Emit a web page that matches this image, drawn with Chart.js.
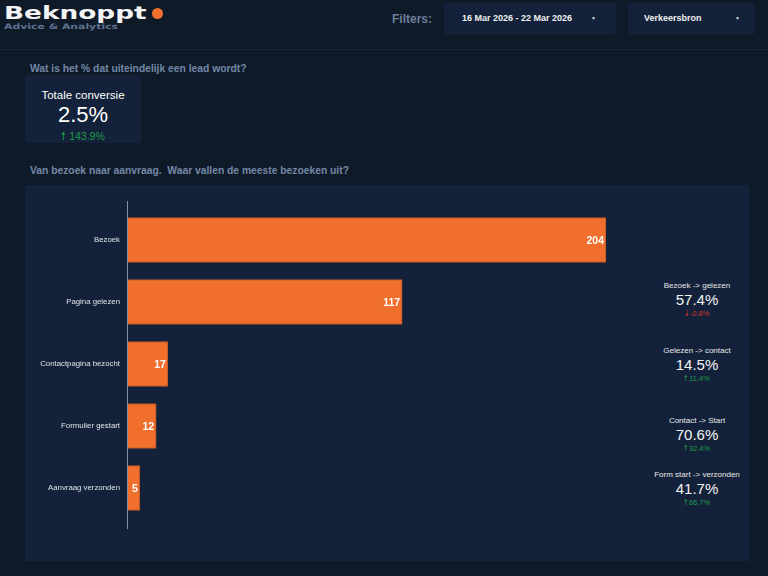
<!DOCTYPE html>
<html>
<head>
<meta charset="utf-8">
<script src="https://cdn.jsdelivr.net/npm/chart.js@4.4.1/dist/chart.umd.min.js"></script>
<style>
  html, body { margin: 0; padding: 0; }
  body { width: 768px; height: 576px; background: #0f1a29; position: relative; overflow: hidden;
         font-family: "Liberation Sans", Arial, sans-serif; color: #fff; }
  .abs { position: absolute; }
  #logo { left: 4px; top: 3px; font-family: "DejaVu Sans", sans-serif; font-weight: bold; font-size: 17px;
          line-height: 20px; color: #f4f4f4; transform: scaleX(1.55); transform-origin: 0 0; white-space: nowrap; }
  #logo-dot { left: 152px; top: 8px; width: 11px; height: 11px; border-radius: 50%; background: #f06f2c; }
  #tagline { left: 4px; top: 22px; font-family: "DejaVu Sans", sans-serif; font-weight: bold; font-size: 7.5px;
             line-height: 10px; color: #5f7290; transform: scaleX(1.45); transform-origin: 0 0; white-space: nowrap; }
  #hline { left: 0; top: 49px; width: 768px; height: 1px; background: #17243a; }
  #filters-lbl { left: 392px; top: 12px; font-weight: bold; font-size: 12px; color: #6c7f99; }
  .dd { background: #13223a; border-radius: 2px; height: 31px; top: 3px; font-weight: bold; font-size: 9px;
        line-height: 31px; color: #f0f0f0; }
  .dd .caret { position: absolute; top: 0; font-size: 5px; color: #ddd; }
  .q { font-weight: bold; font-size: 10.3px; color: #7388a5; }
  #card { left: 25px; top: 75px; width: 116px; height: 68px; background: #13223a; border-radius: 2px; text-align: center; }
  #card .t { position: absolute; left: 0; width: 100%; top: 14px; font-size: 11.5px; }
  #card .v { position: absolute; left: 0; width: 100%; top: 27px; font-size: 22px; }
  #card .d { position: absolute; left: 0; width: 100%; top: 54px; font-size: 10.5px; color: #1f9a46; }
  #panel { left: 25px; top: 185px; width: 725px; height: 376px; background: #13223a; }
  #chart { left: 0; top: 0; }
  .kpi { position: absolute; width: 120px; left: 612px; text-align: center; }
  .kpi .t { font-size: 8px; color: #e8e8e8; height: 10px; line-height: 10px; }
  .kpi .v { font-size: 15px; color: #f2f2f2; height: 17px; line-height: 17px; }
  .kpi .d { font-size: 7.5px; height: 11px; line-height: 11px; }
  .up { color: #1f9a46; }
  .down { color: #d0342c; }
</style>
</head>
<body>
<div class="abs" id="logo">Beknoppt</div>
<div class="abs" id="logo-dot"></div>
<div class="abs" id="tagline">Advice &amp; Analytics</div>
<div class="abs" id="hline"></div>

<div class="abs" id="filters-lbl">Filters:</div>
<div class="abs dd" style="left:444px;width:172px;"><span style="position:absolute;left:18px;">16 Mar 2026 - 22 Mar 2026</span><span class="caret" style="left:147px;">&#9660;</span></div>
<div class="abs dd" style="left:628px;width:127px;"><span style="position:absolute;left:16px;">Verkeersbron</span><span class="caret" style="left:107px;">&#9660;</span></div>

<div class="abs q" style="left:30px;top:63px;">Wat is het % dat uiteindelijk een lead wordt?</div>
<div class="abs" id="card">
  <div class="t">Totale conversie</div>
  <div class="v">2.5%</div>
  <div class="d">&#129045; 143.9%</div>
</div>

<div class="abs q" style="left:30px;top:165px;">Van bezoek naar aanvraag.&nbsp; Waar vallen de meeste bezoeken uit?</div>
<div class="abs" id="panel">
  <canvas class="abs" id="chart" width="581" height="376"></canvas>
  <div id="kpis"></div>
</div>

<script>
// funnel stappen en aantallen bezoekers
var steps = ['Bezoek', 'Pagina gelezen', 'Contactpagina bezocht', 'Formulier gestart', 'Aanvraag verzonden'];
var visits = [204, 117, 17, 12, 5];

// conversie tussen de stappen (rechter kolom)
var stepNames = ['Bezoek -> gelezen', 'Gelezen -> contact', 'Contact -> Start', 'Form start -> verzonden'];
var stepRates = ['57.4%', '14.5%', '70.6%', '41.7%'];
var stepDeltas = [-0.8, 11.4, 32.4, 66.7];
var kpiTops = [96, 161, 231, 285];

// rechter kolom opbouwen
var kpiBox = document.getElementById('kpis');
stepNames.forEach(function (name, i) {
  var up = stepDeltas[i] >= 0;
  var el = document.createElement('div');
  el.className = 'kpi';
  el.style.top = kpiTops[i] + 'px';
  el.innerHTML = '<div class="t">' + name + '</div>' +
    '<div class="v">' + stepRates[i] + '</div>' +
    '<div class="d ' + (up ? 'up' : 'down') + '">' + (up ? '&#129045; ' : '&#129047; ') + stepDeltas[i].toFixed(1) + '%</div>';
  kpiBox.appendChild(el);
});

// as-lijn iets langer dan het grafiekvlak, en de waarden in de balk
var funnelExtras = {
  id: 'funnelExtras',
  beforeDatasetsDraw: function (chart) {
    var ctx = chart.ctx, a = chart.chartArea;
    ctx.save();
    ctx.strokeStyle = '#8791a0';
    ctx.lineWidth = 1;
    ctx.beginPath();
    ctx.moveTo(a.left - 0.5, a.top - 8);
    ctx.lineTo(a.left - 0.5, a.bottom + 10);
    ctx.stroke();
    ctx.restore();
  },
  afterDatasetsDraw: function (chart) {
    var ctx = chart.ctx;
    var meta = chart.getDatasetMeta(0);
    ctx.save();
    ctx.fillStyle = '#ffffff';
    ctx.font = 'bold 10.5px "Liberation Sans", Arial, sans-serif';
    ctx.textAlign = 'right';
    ctx.textBaseline = 'middle';
    meta.data.forEach(function (bar, i) {
      ctx.fillText(String(visits[i]), bar.x - 2, bar.y + 1);
    });
    ctx.restore();
  }
};

new Chart(document.getElementById('chart').getContext('2d'), {
  type: 'bar',
  data: {
    labels: steps,
    datasets: [{
      data: visits,
      backgroundColor: '#f06f2c',
      borderColor: '#b9562a',
      borderWidth: 1,
      barThickness: 45
    }]
  },
  options: {
    indexAxis: 'y',
    responsive: false,
    animation: false,
    layout: { padding: { top: 24, bottom: 42, right: 0, left: 0 } },
    plugins: { legend: { display: false }, tooltip: { enabled: false } },
    scales: {
      x: { display: false, min: 0, max: 204 },
      y: {
        grid: { display: false },
        border: { display: false },
        ticks: { color: '#dfe3e8', padding: 0, font: { size: 7.8, family: '"Liberation Sans", Arial, sans-serif' } },
        afterFit: function (scale) { scale.width = 103; }
      }
    }
  },
  plugins: [funnelExtras]
});
</script>
</body>
</html>
